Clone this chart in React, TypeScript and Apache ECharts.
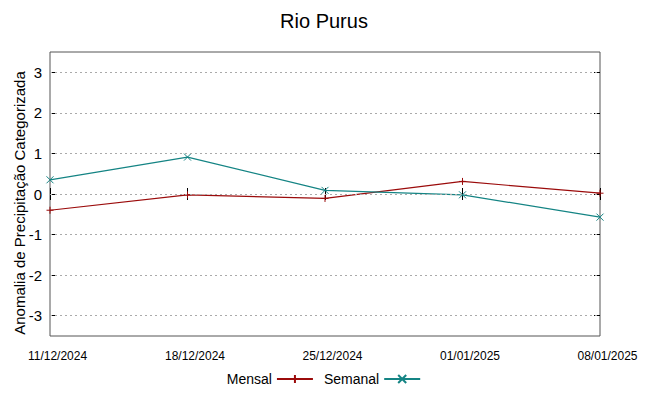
import React, { useEffect, useRef } from "react";
import * as echarts from "echarts";

const categories = ["11/12/2024", "18/12/2024", "25/12/2024", "01/01/2025", "08/01/2025"];
const mensal = [-0.4, -0.02, -0.11, 0.31, 0.02];
const semanal = [0.35, 0.91, 0.09, -0.02, -0.57];
const yTicks = [-3, -2, -1, 0, 1, 2, 3];
const yName = "Anomalia de Precipitação Categorizada";

const FONT = "Liberation Sans, Arial, sans-serif";
const PLUS = "path://M0,5L10,5M5,0L5,10";
const CROSS = "path://M0,0L10,10M10,0L0,10";

export default function App() {
  const ref = useRef<HTMLDivElement>(null);
  useEffect(() => {
    const chart = echarts.init(ref.current!, null, { renderer: "svg" });
    const frame = "#555";
    chart.setOption({
      animation: false,
      backgroundColor: "#fff",
      title: {
        text: "Rio Purus",
        left: "center",
        top: 6,
        textStyle: { fontFamily: FONT, fontSize: 20, fontWeight: "normal", color: "#000" },
      },
      graphic: [
        {
          type: "text",
          x: 19,
          y: 203,
          rotation: Math.PI / 2,
          style: {
            text: yName,
            fontFamily: FONT,
            fontSize: 15,
            fill: "#000",
            align: "center",
            verticalAlign: "middle",
          },
        },
      ],
      grid: { left: 50, right: 48, top: 52, bottom: 60, show: true, borderColor: frame, borderWidth: 1 },
      legend: {
        bottom: 5,
        left: "center",
        align: "right",
        itemWidth: 36,
        itemHeight: 10,
        itemGap: 10,
        textStyle: { fontFamily: FONT, fontSize: 14, color: "#000" },
        data: ["Mensal", "Semanal"],
      },
      xAxis: [
        {
          type: "category",
          data: categories,
          boundaryGap: false,
          axisLine: { show: false },
          axisTick: { show: true, inside: true, length: 6, lineStyle: { color: "#000" } },
          axisLabel: { fontFamily: FONT, fontSize: 12, color: "#000", margin: 14, padding: [0, 0, 0, 15] },
          splitLine: { show: false },
        },
        {
          type: "category",
          data: categories,
          boundaryGap: false,
          position: "top",
          axisLine: { show: false },
          axisTick: { show: true, inside: true, length: 6, lineStyle: { color: "#000" } },
          axisLabel: { show: false },
          splitLine: { show: false },
        },
      ],
      yAxis: [
        {
          type: "value",
          min: -3.5,
          max: 3.5,
          axisLine: { show: false },
          axisTick: { show: true, inside: true, length: 6, customValues: yTicks, lineStyle: { color: "#000" } },
          axisLabel: { fontFamily: FONT, fontSize: 15, color: "#000", margin: 8, customValues: yTicks },
          splitLine: { show: false },
        },
        {
          type: "value",
          min: -3.5,
          max: 3.5,
          position: "right",
          axisLine: { show: false },
          axisTick: { show: true, inside: true, length: 6, customValues: yTicks, lineStyle: { color: "#000" } },
          axisLabel: { show: false, customValues: yTicks },
          splitLine: { show: false },
        },
      ],
      series: [
        {
          name: "Mensal",
          type: "line",
          data: mensal,
          color: "#9b0b0b",
          symbol: PLUS,
          symbolSize: 7,
          itemStyle: { color: "#9b0b0b", borderColor: "#9b0b0b", borderWidth: 1 },
          lineStyle: { color: "#9b0b0b", width: 1.2 },
          markLine: {
            silent: true,
            symbol: "none",
            label: { show: false },
            lineStyle: { color: "#aaa", type: [2, 3], width: 1 },
            data: yTicks.map((v) => ({ yAxis: v })),
          },
          z: 3,
        },
        {
          name: "Semanal",
          type: "line",
          data: semanal,
          color: "#148484",
          symbol: CROSS,
          symbolSize: 7,
          itemStyle: { color: "#148484", borderColor: "#148484", borderWidth: 1 },
          lineStyle: { color: "#148484", width: 1.2 },
          z: 4,
        },
      ],
    });
    return () => chart.dispose();
  }, []);
  return <div ref={ref} style={{ width: 648, height: 396, position: "absolute", left: 0, top: 0 }} />;
}
